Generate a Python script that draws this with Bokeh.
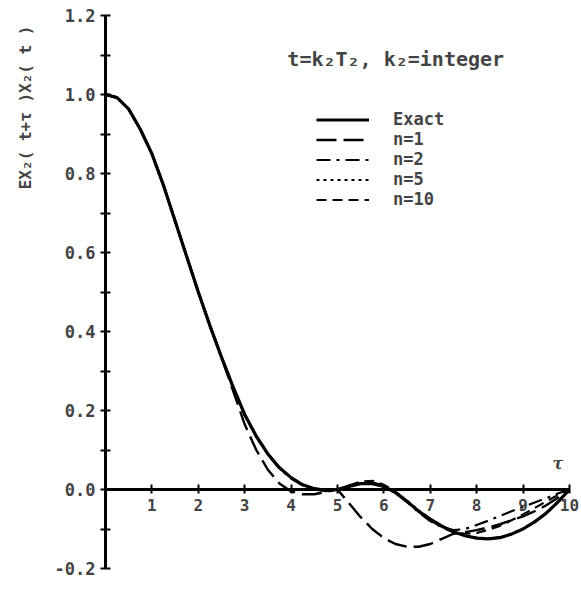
from bokeh.plotting import figure
from bokeh.models import FixedTicker, Label, Legend, LegendItem, Title
from bokeh.embed import file_html
from bokeh.resources import INLINE

# ---------------- data ----------------
tau = [0.0, 0.25, 0.5, 0.75, 1.0, 1.25, 1.5, 1.75, 2.0, 2.25, 2.5, 2.75, 3.0, 3.25,
       3.5, 3.75, 4.0, 4.25, 4.5, 4.75, 5.0, 5.25, 5.5, 5.75, 6.0, 6.25, 6.5, 6.75,
       7.0, 7.25, 7.5, 7.75, 8.0, 8.25, 8.5, 8.75, 9.0, 9.25, 9.5, 9.75, 10.0]

exact = [1.000, 0.992, 0.963, 0.912, 0.850, 0.770, 0.680, 0.590, 0.500, 0.415, 0.335,
         0.260, 0.190, 0.135, 0.090, 0.055, 0.030, 0.012, 0.002, -0.002, 0.000, 0.008,
         0.015, 0.015, 0.008, -0.008, -0.030, -0.055, -0.075, -0.093, -0.107, -0.117,
         -0.123, -0.125, -0.122, -0.113, -0.100, -0.082, -0.060, -0.032, 0.000]

n1 = [1.000, 0.992, 0.963, 0.912, 0.850, 0.770, 0.680, 0.590, 0.500, 0.415, 0.335,
      0.250, 0.165, 0.100, 0.050, 0.015, -0.005, -0.012, -0.012, -0.006, 0.000, -0.035,
      -0.070, -0.100, -0.123, -0.138, -0.145, -0.145, -0.138, -0.125, -0.112, -0.108,
      -0.103, -0.096, -0.088, -0.078, -0.068, -0.055, -0.040, -0.021, 0.000]

n2 = [1.000, 0.992, 0.963, 0.912, 0.850, 0.770, 0.680, 0.590, 0.500, 0.415, 0.335,
      0.258, 0.188, 0.133, 0.088, 0.053, 0.028, 0.010, 0.000, -0.004, 0.000, 0.010,
      0.018, 0.018, 0.010, -0.008, -0.032, -0.058, -0.080, -0.095, -0.103, -0.100,
      -0.090, -0.079, -0.067, -0.055, -0.044, -0.033, -0.022, -0.010, 0.000]

n5 = [1.000, 0.992, 0.963, 0.912, 0.850, 0.770, 0.680, 0.590, 0.500, 0.415, 0.335,
      0.260, 0.190, 0.135, 0.090, 0.055, 0.030, 0.012, 0.002, -0.002, 0.000, 0.009,
      0.017, 0.018, 0.010, -0.006, -0.028, -0.053, -0.074, -0.092, -0.106, -0.116,
      -0.122, -0.124, -0.121, -0.112, -0.099, -0.081, -0.059, -0.031, 0.000]

n10 = [1.000, 0.992, 0.963, 0.912, 0.850, 0.770, 0.680, 0.590, 0.500, 0.415, 0.335,
       0.260, 0.190, 0.135, 0.090, 0.055, 0.030, 0.012, 0.002, -0.002, 0.000, 0.010,
       0.020, 0.022, 0.012, -0.005, -0.030, -0.056, -0.078, -0.096, -0.108, -0.112,
       -0.110, -0.102, -0.092, -0.078, -0.063, -0.047, -0.030, -0.014, 0.000]

x_ticks = [1, 2, 3, 4, 5, 6, 7, 8, 9, 10]
y_ticks = [-0.2, 0.0, 0.2, 0.4, 0.6, 0.8, 1.0, 1.2]
y_tick_labels = ["-0.2", "0.0", "0.2", "0.4", "0.6", "0.8", "1.0", "1.2"]
y_minor = [-0.1, 0.1, 0.3, 0.5, 0.7, 0.9, 1.1]

series_labels = ["Exact", "n=1", "n=2", "n=5", "n=10"]
title_text = "t=k\u2082T\u2082,  k\u2082=integer"
y_label_text = "EX\u2082( t+\u03c4 )X\u2082( t )"

# ---------------- figure ----------------
FONT = "DejaVu Sans Mono"

p = figure(frame_width=476, frame_height=553,
           x_range=(0, 10.26), y_range=(-0.2, 1.2),
           min_border_left=105, min_border_right=0, min_border_top=15,
           min_border_bottom=25,
           output_backend="svg", toolbar_location=None)
p.outline_line_color = None
p.xgrid.visible = False
p.ygrid.visible = False
p.background_fill_color = "white"
p.border_fill_color = "white"

# y axis
p.yaxis.ticker = FixedTicker(ticks=y_ticks, minor_ticks=y_minor)
p.yaxis.major_label_overrides = {t: l for t, l in zip(y_ticks, y_tick_labels)}
p.yaxis.axis_line_width = 3
p.yaxis.major_tick_in = 5
p.yaxis.major_tick_out = 5
p.yaxis.minor_tick_in = 5
p.yaxis.minor_tick_out = 5
p.yaxis.major_tick_line_width = 2
p.yaxis.minor_tick_line_width = 2
p.yaxis.major_label_text_font = FONT
p.yaxis.major_label_text_font_style = "bold"
p.yaxis.major_label_text_font_size = "17px"
p.yaxis.major_label_standoff = 5

# vertical axis title, near the top of the y axis, toward the left edge
p.add_layout(Title(text=y_label_text, align="right", vertical_align="top",
                   offset=10, standoff=29,
                   text_font=FONT, text_font_style="bold", text_font_size="16px"),
             "left")

# x axis at y = 0
p.xaxis.fixed_location = 0
p.xaxis.bounds = (0, 10)
p.xaxis.ticker = FixedTicker(ticks=x_ticks, minor_ticks=[])
p.xaxis.axis_line_width = 3
p.xaxis.major_tick_in = 5
p.xaxis.major_tick_out = 4
p.xaxis.major_tick_line_width = 2
p.xaxis.major_label_text_font = FONT
p.xaxis.major_label_text_font_style = "bold"
p.xaxis.major_label_text_font_size = "16px"
p.xaxis.major_label_standoff = 5

# ---------------- curves ----------------
r_exact = p.line(tau, exact, line_color="black", line_width=3.2)
r_n1 = p.line(tau, n1, line_color="black", line_width=2.4, line_dash="20 7")
r_n2 = p.line(tau, n2, line_color="black", line_width=2.2, line_dash="14 6 3 6")
r_n5 = p.line(tau, n5, line_color="black", line_width=2.2, line_dash="3 4")
r_n10 = p.line(tau, n10, line_color="black", line_width=2.2, line_dash="10 6")

renderers = [r_exact, r_n1, r_n2, r_n5, r_n10]
legend = Legend(items=[LegendItem(label=l, renderers=[r]) for l, r in zip(series_labels, renderers)],
                location=(211, 359), glyph_width=53, glyph_height=19, label_height=19,
                spacing=0, padding=0, margin=0, label_standoff=24,
                border_line_alpha=0, background_fill_alpha=0,
                label_text_font=FONT, label_text_font_style="bold",
                label_text_font_size="17px")
p.add_layout(legend, "center")

# ---------------- texts ----------------
p.add_layout(Label(x=3.92, y=1.09, text=title_text, text_font=FONT,
                   text_font_style="bold", text_font_size="20px",
                   text_baseline="middle", text_align="left"))
p.add_layout(Label(x=9.75, y=0.065, text="\u03c4", text_font="DejaVu Serif",
                   text_font_style="bold italic", text_font_size="16px",
                   text_baseline="middle", text_align="center"))

open("out.html", "w").write(file_html(p, INLINE))
